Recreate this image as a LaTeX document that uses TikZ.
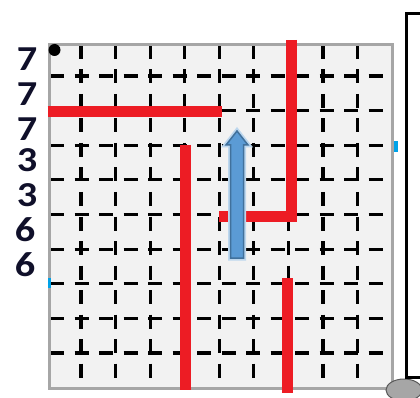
\documentclass[tikz,border=0pt]{standalone}
\usepackage{fontspec}
\setmainfont{Carlito}
\definecolor{gridbg}{HTML}{F2F2F2}
\definecolor{bordergray}{HTML}{A6A6A6}
\definecolor{redline}{HTML}{ED1C24}
\definecolor{arrowfill}{HTML}{5B9BD5}
\definecolor{arrowedge}{HTML}{41719C}
\definecolor{arrowhalo}{HTML}{BDD7EE}
\definecolor{tickblue}{HTML}{00A2E8}
\definecolor{digitcol}{HTML}{10102A}
\tikzset{
  gridline/.style={line width=3.2pt, black, dash pattern=on 14pt off 10.5pt},
  wall/.style={line width=11pt, redline},
  lbl/.style={inner sep=0pt, font=\fontsize{35}{35}\selectfont\bfseries, text=digitcol, xscale=1.15},
  frameline/.style={line width=3pt, black, line join=miter},
}
\begin{document}
\begin{tikzpicture}[x=1pt,y=-1pt]
\useasboundingbox (0,0) rectangle (420,398);
% board background
\fill[gridbg] (49,45) rectangle (392,388);
% dashed grid
\foreach \k in {0,...,8}{
  \draw[gridline] ({81+34.575*\k},45) -- ({81+34.575*\k},388);
  \draw[gridline] (50,{76+34.625*\k}) -- (392,{76+34.625*\k});
}
% border
\draw[bordergray, line width=3pt] (49,45) rectangle (392,388);
% red walls
\draw[wall] (47.5,111.5) -- (222,111.5);
\draw[wall] (185.5,145) -- (185.5,390);
\draw[wall, line join=miter] (291,40) -- (291,216) -- (219,216);
\draw[wall] (287.5,278) -- (287.5,393);
% blue arrow
\path[draw=arrowhalo, line width=5pt, line join=miter, fill=arrowhalo]
  (230.5,258) -- (230.5,145) -- (226,145) -- (237,131) -- (248,145) -- (243.5,145) -- (243.5,258) -- cycle;
\path[draw=arrowedge, line width=1.5pt, line join=miter, fill=arrowfill]
  (230.5,258) -- (230.5,145) -- (226,145) -- (237,131) -- (248,145) -- (243.5,145) -- (243.5,258) -- cycle;
% start dot
\fill[black] (54.5,50) circle (6);
% blue ticks
\fill[tickblue] (48,278) rectangle (51,288);
\fill[tickblue] (394,141) rectangle (398,152);
% right frame and bowl
\fill[bordergray, draw=black!65, line width=1pt] (404,390) ellipse [x radius=18, y radius=11];
\draw[frameline] (420,13.5) -- (406.5,13.5) -- (406.5,377.5) -- (420,377.5);
% row labels
\node[lbl] (r1) at (27,59) {7};
\node[lbl] (r2) at (27,94) {7};
\node[lbl] (r3) at (27,129) {7};
\node[lbl] (r4) at (27,160.5) {3};
\node[lbl] (r5) at (27,195.5) {3};
\node[lbl] (r6) at (25,230) {6};
\node[lbl] (r7) at (25,265) {6};
\end{tikzpicture}
\end{document}
